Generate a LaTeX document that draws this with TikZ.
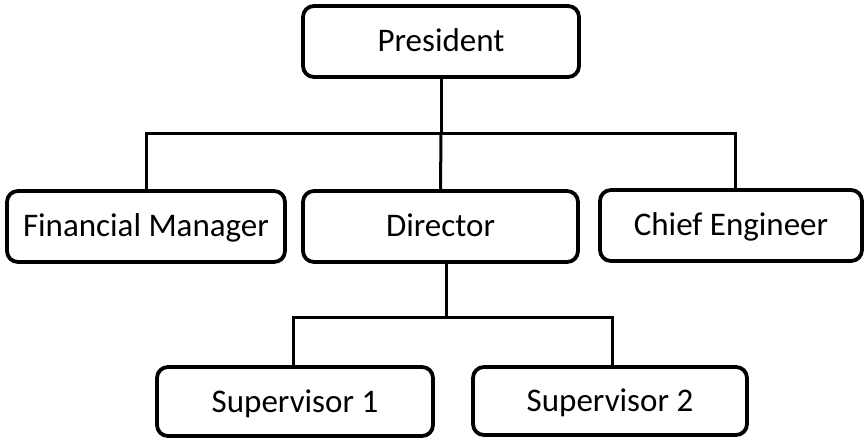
\documentclass[tikz,border=0pt]{standalone}
\usepackage{fontspec}
\setmainfont{Carlito}
\begin{document}
\begin{tikzpicture}[x=1pt,y=-1pt,
  rolebox/.style={draw=black, line width=3.8pt, rounded corners=11pt, fill=white,
    inner sep=0pt, minimum height=71pt, text height=21pt, text depth=0pt,
    font=\fontsize{33}{40}\selectfont},
  link/.style={draw=black, line width=3pt}]
  \useasboundingbox (0,0) rectangle (865,438);

  % roles
  \node[rolebox, minimum width=276pt] (pres)  at (441,41.5)  {President};
  \node[rolebox, minimum width=278pt] (fin)   at (146,226.5) {Financial Manager};
  \node[rolebox, minimum width=275pt] (dir)   at (440.5,226.5) {Director};
  \node[rolebox, minimum width=262pt] (chief) at (731,225.5) {Chief Engineer};
  \node[rolebox, minimum width=276pt, minimum height=69pt] (sup1) at (295,401.5) {Supervisor 1};
  \node[rolebox, minimum width=274pt, minimum height=68pt] (sup2) at (610,401) {Supervisor 2};

  % bus lines
  \coordinate (bus1) at (441,134);
  \coordinate (bus2) at (446,318);

  % connectors
  \draw[link] (pres.south) -- (bus1);
  \draw[link] (fin.north) |- (bus1) -| ([xshift=4pt]chief.north);
  \draw[link] (bus1) -- (dir.north);
  \draw[link] ([xshift=5.5pt]dir.south) -- (bus2);
  \draw[link] ([xshift=-2pt]sup1.north) |- (bus2) -| ([xshift=2pt]sup2.north);
\end{tikzpicture}
\end{document}
